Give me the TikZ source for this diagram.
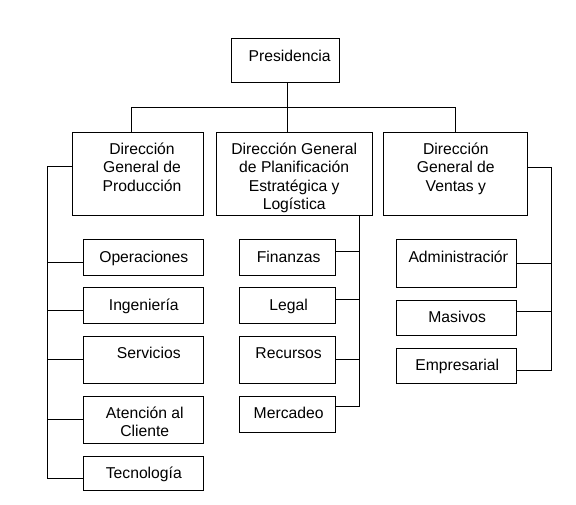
\documentclass[tikz,border=0pt]{standalone}
\usepackage{fontspec}
\setmainfont{Liberation Sans}
\usetikzlibrary{positioning}
\newcommand\orgfont{\fontsize{15.7}{18.3}\selectfont}
\newcommand\capst{\rule{0pt}{12pt}}
\tikzset{
  box/.style={draw,line width=1pt,anchor=north west,inner sep=0pt},
  lbl/.style={anchor=north,inner sep=0pt,align=center,font=\orgfont},
  ln/.style={line width=1pt}
}

\begin{document}
\begin{tikzpicture}[x=1pt,y=-1pt]
\useasboundingbox (0,0) rectangle (576,504);
\node[box,minimum width=108.3pt,minimum height=43.4pt] (pres) at (231,38.3) {};
\node[box,minimum width=131.6pt,minimum height=83.3pt] (dprod) at (71.7,131.7) {};
\node[box,minimum width=156pt,minimum height=83.3pt] (dplan) at (215.7,131.7) {};
\node[box,minimum width=144pt,minimum height=83.3pt] (dvent) at (383.3,131.7) {};
\node[lbl,xshift=4pt] (pres-t) at ([yshift=-10.5pt]pres.north) {\capst Presidencia};
\node[lbl,xshift=4pt] (dprod-t) at ([yshift=-10.5pt]dprod.north) {\capst Dirección\\General de\\Producción};
\node[lbl] (dplan-t) at ([yshift=-10.5pt]dplan.north) {\capst Dirección General\\de Planificación\\Estratégica y\\Logística};
\node[lbl] (dvent-t) at ([yshift=-10.5pt]dvent.north) {\capst Dirección\\General de\\Ventas y};

\coordinate (barl) at (131.7,107.3);
\coordinate (barm) at (287.3,107.3);
\coordinate (barr) at (455.7,107.3);
\draw[ln] (barm |- pres.south) -- (barm) -- (barm |- dplan.north);
\draw[ln] (barl |- dprod.north) -- (barl) -- (barr) -- (barr |- dvent.north);

\foreach \nm/\y/\hh/\off/\dx/\txt in {oper/239.3/35.7/23.5/0/Operaciones,ing/287.3/36/23.5/0/Ingeniería,serv/335.7/47.6/23.5/5/Servicios,aten/395.7/47.6/23.3/1/Atención al\\Cliente,tecn/455.7/34.3/22.6/0/Tecnología}{
  \node[box,minimum width=120pt,minimum height=\hh pt] (\nm) at (83.3,\y) {};
  \node[lbl,xshift=\dx pt] (\nm-t) at ([yshift=-10.5pt]\nm.north) {\capst\txt};
  \coordinate (\nm-c) at ([yshift=-\off pt]\nm.north west);
}
\foreach \nm/\y/\hh/\off/\txt in {fin/239.3/35.7/11.7/Finanzas,leg/287.3/36/11.7/Legal,rec/335.7/47.6/23.3/Recursos,merc/395.7/36/11/Mercadeo}{
  \node[box,minimum width=95.7pt,minimum height=\hh pt] (\nm) at (239.3,\y) {};
  \node[lbl,xshift=1pt] (\nm-t) at ([yshift=-10.5pt]\nm.north) {\capst\txt};
  \coordinate (\nm-c) at ([yshift=-\off pt]\nm.north east);
}
\foreach \nm/\y/\hh/\off/\txt in {mas/300/35/11.7/Masivos,emp/347.7/35/23/Empresarial}{
  \node[box,minimum width=120pt,minimum height=\hh pt] (\nm) at (395.7,\y) {};
  \node[lbl,xshift=1pt] (\nm-t) at ([yshift=-10.5pt]\nm.north) {\capst\txt};
  \coordinate (\nm-c) at ([yshift=-\off pt]\nm.north east);
}
\node[box,minimum width=120pt,minimum height=48pt] (adm) at (395.7,239.3) {};
\begin{scope}
\clip (adm.north west) rectangle ([xshift=-9.5pt]adm.south east);
\node[lbl,anchor=north west] (adm-t) at ([xshift=12.6pt,yshift=-10.5pt]adm.north west) {\capst Administración};
\end{scope}
\coordinate (adm-c) at ([yshift=-24pt]adm.north east);

\coordinate (spl) at (47.3,0);
\coordinate (spm) at (359.3,0);
\coordinate (spr) at (551,0);
\draw[ln] ([yshift=-35pt]dprod.north west) -| (spl |- tecn-c);
\draw[ln] (spm |- dplan.south) -- (spm |- merc-c);
\draw[ln] ([yshift=-35.6pt]dvent.north east) -| (spr |- emp-c);
\foreach \nm in {oper,ing,serv,aten,tecn}{\draw[ln] (\nm-c) -- (spl |- \nm-c);}
\foreach \nm in {fin,leg,rec,merc}{\draw[ln] (\nm-c) -- (spm |- \nm-c);}
\foreach \nm in {adm,mas,emp}{\draw[ln] (\nm-c) -- (spr |- \nm-c);}
\end{tikzpicture}
\end{document}
